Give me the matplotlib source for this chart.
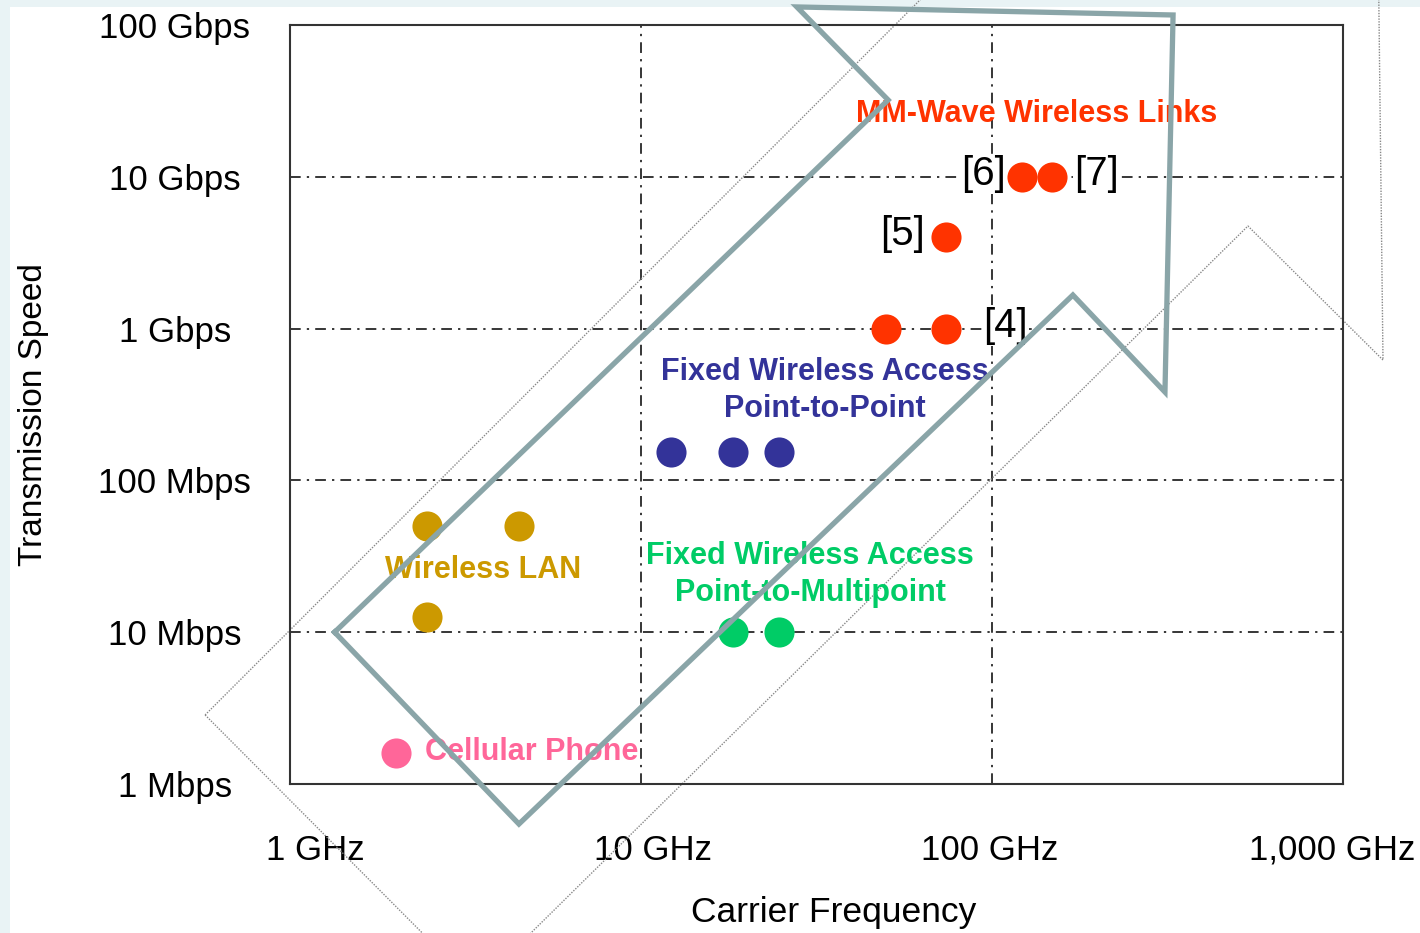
import matplotlib
matplotlib.use("Agg")
import matplotlib.pyplot as plt
import matplotlib.transforms as mtransforms
from matplotlib.patches import Rectangle

plt.rcParams["font.family"] = ["Liberation Sans", "DejaVu Sans"]

# axis ticks
x_ticks = [1, 10, 100, 1000]
x_labels = ["1 GHz", "10 GHz", "100 GHz", "1,000 GHz"]
y_ticks = [1, 10, 100, 1000, 10000, 100000]
y_labels = ["1 Mbps", "10 Mbps", "100 Mbps", "1 Gbps", "10 Gbps", "100 Gbps"]

# systems (GHz, Mbps)
cell_f = [2.0]
cell_r = [1.6]
wlan_f = [2.45, 4.5, 2.45]
wlan_r = [50, 50, 12.5]
p2p_f = [12.2, 18.3, 24.7]
p2p_r = [155, 155, 155]
p2mp_f = [18.3, 24.7]
p2mp_r = [10, 10]
mm_f = [50, 74, 74, 122, 148]
mm_r = [1000, 1000, 4000, 10000, 10000]

# reference tags: label, index into mm, x offset (pt)
ref_labels = ["[4]", "[5]", "[6]", "[7]"]
ref_idx = [1, 2, 3, 4]
ref_dx = [27, -15, -12, 16]

# big trend arrow outline (GHz, Mbps)
arrow_f = [1.34, 4.49, 170, 311, 328, 27.8, 50.6, 1.34]
arrow_r = [10.0, 0.545, 1664, 382, 116400, 131500, 32060, 10.0]
# faint shadow arrow behind it
shadow_f = [0.573, 3.39, 536, 1300, 1259, 92.4, 0.573]
shadow_r = [2.85, 0.046, 4740, 621, 363000, 363000, 2.85]

fig = plt.figure(figsize=(14.2, 9.33), dpi=100)
fig.patch.set_facecolor("#e9f3f5")
fig.add_artist(Rectangle((10 / 1420, 0), 1, 926 / 933, transform=fig.transFigure,
                         facecolor="white", edgecolor="none", zorder=0))

ax = fig.add_axes([290 / 1420, 149 / 933, 1053 / 1420, 759 / 933])
ax.set_xscale("log")
ax.set_yscale("log")
ax.set_xlim(1, 1000)
ax.set_ylim(1, 100000)
ax.set_facecolor("white")

ax.set_xticks(x_ticks)
ax.set_xticklabels(x_labels, fontsize=25)
ax.set_yticks(y_ticks)
ax.set_yticklabels(y_labels, fontsize=25, ha="center")
ax.minorticks_off()
ax.tick_params(axis="both", length=0)
ax.tick_params(axis="y", pad=83)
ax.tick_params(axis="x", pad=36)
# nudge x tick labels like the original slide
for lab, dx in zip(ax.get_xticklabels(), [25, 12, -2, -11]):
    lab.set_transform(lab.get_transform() +
                      mtransforms.ScaledTranslation(dx / 100, 0, fig.dpi_scale_trans))
for s in ax.spines.values():
    s.set_color("#333333")
    s.set_linewidth(1.5)

ax.grid(True, which="major", color="black", linewidth=1.1,
        linestyle=(0, (7, 4, 1.5, 4)))
ax.set_axisbelow(True)

ax.set_xlabel("Carrier Frequency", fontsize=25.5)
ax.xaxis.set_label_coords(0.516, -0.148)
ax.set_ylabel("Transmission Speed", fontsize=24)
ax.yaxis.set_label_coords(-0.229, 0.487)

ms = 470
ax.scatter(cell_f, cell_r, s=ms, color="#ff6699", zorder=3, linewidths=0)
ax.scatter(wlan_f, wlan_r, s=ms, color="#cc9900", zorder=3, linewidths=0)
ax.scatter(p2p_f, p2p_r, s=ms, color="#333399", zorder=3, linewidths=0)
ax.scatter(p2mp_f, p2mp_r, s=ms, color="#00cc66", zorder=3, linewidths=0)
ax.scatter(mm_f, mm_r, s=ms, color="#ff3300", zorder=3, linewidths=0)

for lab, i, dx in zip(ref_labels, ref_idx, ref_dx):
    ax.annotate(lab, (mm_f[i], mm_r[i]), xytext=(dx, 2), textcoords="offset points",
                ha="left" if dx > 0 else "right", va="center", fontsize=29,
                zorder=4, bbox=dict(facecolor="white", edgecolor="none", pad=1))

bold = dict(fontsize=22, fontweight="bold", zorder=4)
ax.text(134, 25900, "MM-Wave Wireless Links", color="#ff3300", ha="center", va="center", **bold)
ax.text(33.4, 390, "Fixed Wireless Access\nPoint-to-Point", color="#333399",
        ha="center", va="center", linespacing=1.3, **bold)
ax.text(30.3, 24.0, "Fixed Wireless Access\nPoint-to-Multipoint", color="#00cc66",
        ha="center", va="center", linespacing=1.3, **bold)
ax.text(3.55, 25.7, "Wireless LAN", color="#cc9900", ha="center", va="center", **bold)
ax.text(2.42, 1.62, "Cellular Phone", color="#ff6699", ha="left", va="center", **bold)

ax.plot(shadow_f, shadow_r, color="#888888", linewidth=1.0, linestyle=(0, (1, 1)),
        clip_on=False, zorder=1)
ax.plot(arrow_f, arrow_r, color="#8aa5a8", linewidth=3.8, solid_joinstyle="miter",
        clip_on=False, zorder=10)

fig.savefig("out.png", dpi=100, facecolor=fig.get_facecolor())
